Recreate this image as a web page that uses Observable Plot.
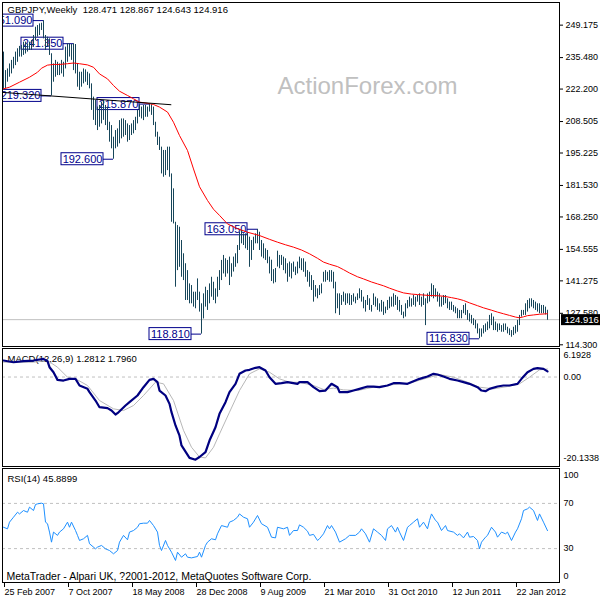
<!DOCTYPE html>
<html><head><meta charset="utf-8">
<script src="https://cdn.jsdelivr.net/npm/d3@7"></script>
<script src="https://cdn.jsdelivr.net/npm/@observablehq/plot@0.6"></script>
<style>
body{margin:0;background:#fff;}
#chart{position:relative;width:600px;height:600px;overflow:hidden;background:#fff;}
#chart svg{position:absolute;left:0;}
</style></head><body><div id="chart"></div>
<script>
// ---- weekly OHLC bars (week index 0 = 25 Feb 2007) ----
const highs = [
237.8,230.0,230.7,232.8,234.3,235.6,237.8,239.2,240.2,240.6,
242.0,242.0,241.3,242.0,242.7,244.8,248.3,249.0,249.7,250.0,
251.09,244.8,244.1,243.4,237.1,232.8,234.3,233.5,232.8,234.3,
233.5,239.9,241.3,241.3,241.0,241.35,241.0,232.8,229.3,229.3,
230.7,230.3,229.3,228.6,224.4,218.8,217.4,214.6,215.3,216.7,
217.4,215.3,214.6,208.2,206.8,201.9,204.7,205.4,208.9,209.6,
209.6,208.9,207.5,206.8,207.5,208.9,210.3,213.2,215.5,214.6,
215.3,215.3,214.6,215.87,215.6,214.6,208.2,204.0,201.9,197.7,
196.3,196.3,197.7,197.7,186.4,180.1,166.0,164.6,163.9,158.3,
152.7,148.5,145.6,140.0,139.3,136.5,136.5,142.1,136.5,131.6,
135.8,138.6,137.2,140.0,142.8,140.7,137.9,142.8,145.6,149.9,
152.0,150.6,149.9,151.3,148.5,151.3,152.7,156.2,161.8,162.5,
161.1,161.1,161.5,159.7,158.3,159.7,161.1,163.05,161.8,158.3,
156.9,154.8,154.1,151.3,150.0,146.0,146.5,153.8,152.0,152.0,
151.3,150.6,148.5,149.2,148.5,149.2,147.1,149.2,151.3,150.6,
150.6,149.2,145.6,144.9,143.5,141.4,139.3,137.9,139.3,140.0,
144.9,145.6,144.9,145.6,145.6,144.9,140.7,135.8,135.8,135.1,
136.5,135.8,135.8,135.8,135.1,135.8,134.4,135.8,137.9,137.2,
134.4,133.0,135.1,133.7,130.9,135.8,134.4,133.7,131.6,133.0,
132.3,130.2,133.0,134.4,134.4,135.8,135.1,134.4,133.0,130.9,
128.1,131.6,133.0,134.4,133.7,135.1,134.4,135.1,135.8,134.4,
135.8,133.7,135.8,136.5,140.0,139.3,137.9,136.5,135.8,134.4,
135.1,135.1,133.7,132.3,132.3,130.9,130.2,129.5,128.8,128.8,
130.9,131.6,128.8,127.4,126.7,125.3,124.6,123.1,121.0,121.0,
122.4,123.1,123.9,126.7,127.4,126.0,123.9,123.1,123.1,122.4,
123.1,123.1,121.7,121.0,120.3,121.7,122.4,124.6,126.7,128.8,
128.8,131.6,133.0,133.7,133.7,133.0,132.3,131.6,131.6,130.9,
130.9,130.2,128.867];
const lows = [
221.6,222.3,225.1,227.2,228.6,230.7,232.1,233.5,235.7,235.7,
236.4,237.0,237.8,238.5,238.5,239.9,242.7,244.1,244.8,246.9,
243.4,238.5,239.9,236.4,219.32,225.1,227.2,227.9,227.9,228.6,
227.2,230.7,233.5,235.7,234.3,230.0,228.6,223.0,221.6,223.0,
224.4,225.1,223.7,222.3,213.2,209.0,206.8,204.7,206.1,207.5,
209.0,206.8,204.7,199.8,197.0,192.6,197.0,197.7,199.1,201.2,
201.9,202.6,199.8,200.5,202.6,203.3,204.7,207.5,210.3,209.6,
208.9,210.3,210.3,212.5,211.1,206.8,201.9,198.4,196.3,186.4,
185.0,185.7,187.8,185.0,166.0,165.3,138.6,145.6,147.0,142.8,
141.4,133.0,133.0,131.6,131.6,130.2,129.5,133.0,128.1,118.81,
125.2,130.2,128.8,131.6,134.4,133.0,131.6,134.4,137.2,141.4,
144.2,142.8,144.2,139.3,142.8,145.0,147.0,148.5,154.1,156.9,
156.2,154.8,154.1,147.0,149.9,154.1,156.9,156.9,154.1,151.3,
150.6,149.9,148.5,144.2,141.0,140.0,140.5,147.1,146.4,147.8,
145.6,144.2,140.7,142.8,142.1,144.9,143.5,144.2,146.4,145.6,
144.9,142.8,140.7,138.6,137.2,132.3,134.4,133.7,135.1,135.8,
140.7,140.7,141.4,140.7,140.7,137.9,127.4,129.5,126.7,130.9,
132.3,130.9,131.6,130.9,130.9,132.3,131.6,133.0,133.7,132.3,
129.5,128.1,130.9,128.8,128.1,130.9,130.2,128.8,128.1,128.1,
126.7,127.4,128.8,129.5,130.2,130.2,130.9,128.8,128.1,126.7,
125.3,126.0,129.5,130.2,130.2,130.9,130.2,132.3,130.9,130.2,
130.9,122.4,131.6,132.3,134.4,133.7,134.4,132.3,130.2,130.2,
130.9,131.6,129.5,128.8,128.8,128.1,127.4,125.3,125.3,125.3,
127.4,126.7,124.6,123.9,123.1,122.4,121.0,118.9,116.83,117.5,
118.9,119.6,120.3,121.0,122.4,120.3,120.3,119.6,120.3,119.6,
119.6,120.3,118.9,118.2,117.5,118.2,118.9,119.6,122.4,126.0,
126.7,126.7,128.1,129.5,130.2,129.5,128.8,128.1,127.4,127.4,
127.4,126.9,124.643];
const lastClose = 124.916;

// ---- moving average (red) ----
const maWeeks  = [0,3,8,13,17,19,22,25,28,32,35,38,42,45,48,52,55,58,62,65,68,72,75,78,82,85,88,92,95,98,102,105,108,112,117,122,128,133,137,141,145,149,153,157,160,163,167,170,173,177,180,184,187,190,193,197,200,204,207,210,213,217,220,224,227,230,233,237,240,244,247,250,253,256,258,260,262,265,268,272];
const maValues = [222.3,223.0,225.1,227.2,229.3,231.0,232.3,232.6,232.6,232.9,233.2,232.9,232.4,231.4,228.6,226.5,223.7,221.3,219.5,218.1,216.7,216.2,215.7,214.6,212.5,208.2,202.6,196.3,188.5,181.0,175.2,171.5,168.9,165.3,163.3,161.8,160.4,158.8,157.6,156.5,155.5,154.3,152.7,150.8,149.2,148.3,147.3,146.0,144.6,143.0,142.1,140.8,140.0,139.2,138.2,137.0,136.2,135.7,135.5,135.3,135.1,135.0,134.8,134.2,133.7,133.0,132.0,130.8,129.9,128.9,128.1,127.4,126.7,126.0,125.7,126.1,126.6,126.9,127.2,127.4];

// ---- trendline (black) ----
const trendWeeks = [-0.5, 83.7];
const trendValues = [220.8, 215.6];

// ---- price labels ----
const labelWeeks  = [20, 35, 24, 73, 55, 127, 99, 238];
const labelValues = [251.09, 241.35, 219.32, 215.87, 192.6, 163.05, 118.81, 116.83];

// ---- MACD(12,26,9) ----
const macdWeeks  = [0,5,10,15,20,22,23,25,27,30,33,36,38,42,43,46,48,52,54,56,57,61,63,67,70,73,75,77,78,81,83,84,86,88,89,91,93,96,98,101,103,106,108,111,113,116,118,121,123,126,128,131,133,136,139,142,147,148,152,155,158,161,164,167,168,172,175,178,182,185,188,192,195,198,202,205,208,212,215,217,220,223,227,230,233,237,239,241,243,247,250,253,257,259,262,265,267,270,272];
const macdValues = [3.71,3.33,3.56,3.71,4.09,3.56,2.21,1.08,-0.64,-0.79,-0.41,-0.41,-1.91,-2.66,-3.41,-5.29,-6.79,-7.01,-7.54,-8.44,-8.14,-6.41,-5.66,-4.16,-2.29,-0.64,-0.41,-1.16,-3.04,-4.16,-6.04,-7.91,-10.9,-13.2,-15.4,-16.8,-18.2,-18.6,-18.0,-16.9,-14.3,-11.3,-8.28,-5.66,-3.41,-1.53,0.72,1.46,1.62,2.07,2.21,1.46,-0.04,-1.53,-1.39,-1.16,-1.53,-1.16,-1.16,-2.29,-3.19,-3.04,-1.53,-2.29,-3.41,-3.41,-3.04,-2.66,-2.14,-2.14,-2.29,-1.91,-1.39,-1.39,-1.53,-0.94,-0.41,0.11,0.72,0.57,0.11,-0.41,-0.79,-1.16,-1.53,-2.29,-3.04,-3.19,-2.66,-2.14,-1.91,-1.91,-1.53,-0.41,1.08,1.84,2.0,1.84,1.28];
const signalWeeks  = [0,15,22,27,32,37,42,48,55,60,65,70,76,80,85,90,94,98,101,105,108,113,118,123,128,133,138,143,148,155,160,165,170,177,185,195,203,212,218,225,232,238,245,252,258,263,268,272];
const signalValues = [3.33,3.33,3.71,2.21,-0.04,-0.64,-1.91,-5.29,-7.16,-7.54,-6.41,-4.16,-1.16,-1.53,-5.29,-12.0,-15.8,-18.0,-18.2,-15.8,-12.8,-7.91,-3.04,0.72,1.84,1.08,-0.41,-1.16,-1.2,-1.91,-2.8,-2.5,-2.89,-3.04,-2.29,-1.69,-1.39,-0.19,0.57,-0.04,-1.16,-2.29,-2.66,-2.14,-1.53,-0.04,1.62,1.80];
const macdTicks = [6.1928, 0, -20.1338];
const macdTickLabels = ["6.1928", "0.00", "-20.1338"];

// ---- RSI(14) ----
const rsiWeeks  = [0,2,3,5,7,8,10,12,13,15,16,17,19,20,21,22,23,24,25,27,28,30,32,33,34,36,37,38,40,42,43,46,47,49,51,53,55,57,58,60,62,63,65,67,68,70,72,73,75,77,78,79,81,82,84,86,87,89,91,92,94,97,98,99,101,102,104,106,107,109,112,113,115,117,118,120,122,123,125,127,129,132,134,136,137,140,142,143,145,147,148,150,152,153,155,157,158,160,162,163,164,166,168,171,173,176,178,179,181,183,185,187,189,191,192,194,196,197,198,200,202,203,205,207,208,210,212,213,214,216,217,219,221,222,225,227,228,230,232,233,235,237,238,239,241,242,244,246,247,249,251,252,254,256,257,259,260,262,263,265,267,268,270,272];
const rsiValues = [48.9,47.5,53.4,57.8,62.2,60.7,63.7,62.2,66.7,63.7,69.0,69.6,70.2,69.6,53.4,52.0,44.6,35.7,44.6,41.7,44.6,47.5,53.4,48.9,53.4,46.0,41.7,37.2,38.7,41.7,34.3,29.8,31.3,32.8,29.8,28.3,25.4,28.3,35.7,41.7,37.8,44.6,46.0,48.9,52.0,52.5,52.5,54.9,50.4,44.6,32.8,28.3,37.2,32.8,26.8,19.5,26.8,22.4,25.4,22.4,21.8,23.0,26.8,22.4,32.8,35.7,38.7,37.8,43.1,50.4,48.9,53.4,54.9,57.8,60.7,57.8,56.4,48.9,53.4,59.3,52.0,48.9,40.1,39.5,48.9,47.5,48.9,41.7,46.0,46.0,51.0,48.9,45.4,41.7,42.6,37.2,38.7,43.1,50.4,47.5,50.4,44.6,35.7,38.7,41.7,41.7,44.6,47.5,43.1,35.7,47.5,44.6,41.7,37.2,47.5,50.4,44.6,48.9,44.6,37.2,48.9,50.4,53.4,56.4,48.9,53.4,47.5,54.9,60.7,54.9,53.4,46.0,50.4,46.0,44.6,41.7,43.1,39.5,44.6,40.1,40.7,37.2,29.8,35.7,40.1,41.7,48.9,44.6,40.1,44.6,43.1,44.6,37.2,44.6,47.5,56.4,63.7,65.2,66.7,63.7,54.9,60.7,53.4,45.9];
const rsiTicks = [100, 70, 30, 0];

// ---- axes ----
const priceTicks = [249.175,235.480,222.200,208.505,195.225,181.530,168.250,154.555,141.275,127.580,114.300];
const dateTickWeeks = [0,32,64,96,128,160,192,224,256];
const dateTickLabels = ["25 Feb 2007","7 Oct 2007","18 May 2008","28 Dec 2008","9 Aug 2009","21 Mar 2010","31 Oct 2010","12 Jun 2011","22 Jan 2012"];

const titleText = "GBPJPY,Weekly  128.471 128.867 124.643 124.916";
const macdTitle = "MACD(12,26,9) 1.2812 1.7960";
const rsiTitle = "RSI(14) 45.8899";
const footer = "MetaTrader - Alpari UK, ?2001-2012, MetaQuotes Software Corp.";
const watermark = "ActionForex.com";

// ---- build ----
const FONT = "'Liberation Sans', Arial, sans-serif";
const BAR = "#17465a";
const NAVY = "#00008b";
const xDomain = [-0.5, 278];
const zip = (a, b) => a.map((k, i) => ({k, v: b[i]}));
const bars = highs.map((h, i) => ({k: i, high: h, low: lows[i]}));
const maPts = zip(maWeeks, maValues);
const trendPts = zip(trendWeeks, trendValues);
const labels = zip(labelWeeks, labelValues);
const macdPts = zip(macdWeeks, macdValues);
const sigPts = zip(signalWeeks, signalValues);
const rsiPts = zip(rsiWeeks, rsiValues);
const baseStyle = {fontFamily: FONT, fontSize: "9px", background: "transparent", color: "black", overflow: "visible"};
const common = {width: 600, marginLeft: 2, marginRight: 41, style: baseStyle};

const p1 = Plot.plot({
  ...common, height: 347, marginTop: 2, marginBottom: 1,
  x: {domain: xDomain, axis: null},
  y: {domain: [113.583, 258.73], label: null},
  marks: [
    Plot.text([watermark], {text: d => d, frameAnchor: "top-left", textAnchor: "start", lineAnchor: "top", dx: 275, dy: 74, fontSize: 24, fill: "#c0c0c0"}),
    Plot.ruleY([lastClose], {stroke: "#c0c0c0"}),
    Plot.ruleY(labels, {y: "v", x1: "k", x2: "k", insetLeft: -10, stroke: NAVY}),
    Plot.rect(labels, {x1: "k", x2: "k", y1: "v", y2: "v", insetLeft: -52, insetRight: 10, insetTop: -6, insetBottom: -6, fill: "white", stroke: NAVY, clip: true}),
    Plot.text(labels, {x: "k", y: "v", text: d => d.v.toFixed(3), dx: -31, fill: NAVY, fontSize: 11, clip: true}),
    Plot.ruleX(bars, {x: "k", y1: "low", y2: "high", stroke: BAR, strokeWidth: 1}),
    Plot.line(maPts, {x: "k", y: "v", stroke: "#ff0000", strokeWidth: 1}),
    Plot.line(trendPts, {x: "k", y: "v", stroke: "black", strokeWidth: 1}),
    Plot.text([titleText], {text: d => d, frameAnchor: "top-left", textAnchor: "start", lineAnchor: "top", dx: 5, dy: 4, fontSize: 9.5, fill: "black"}),
    Plot.frame({stroke: "black"}),
    Plot.axisY({ticks: priceTicks, anchor: "right", tickSize: 3, tickPadding: 3, tickFormat: d => d.toFixed(3), label: null, fontSize: 9}),
    Plot.rect([lastClose], {x1: xDomain[1], x2: xDomain[1], y1: d => d, y2: d => d, insetLeft: 2, insetRight: -41, insetTop: -5, insetBottom: -6, fill: "black"}),
    Plot.text([lastClose], {x: xDomain[1], y: d => d, text: d => d.toFixed(3), textAnchor: "start", dx: 5, fill: "white", fontSize: 9.5})
  ]
});

const p2 = Plot.plot({
  ...common, height: 120, marginTop: 1, marginBottom: 1, insetTop: 1,
  x: {domain: xDomain, axis: null},
  y: {domain: [-20.1338, 6.1928], label: null},
  marks: [
    Plot.ruleY([0], {stroke: "#c0c0c0", strokeDasharray: "3,3"}),
    Plot.text([macdTitle], {text: d => d, frameAnchor: "top-left", textAnchor: "start", lineAnchor: "top", dx: 5, dy: 7, fontSize: 9.5, fill: "black"}),
    Plot.line(sigPts, {x: "k", y: "v", stroke: "#b8b8b8", strokeWidth: 1}),
    Plot.line(macdPts, {x: "k", y: "v", stroke: "#000080", strokeWidth: 2.2}),
    Plot.frame({stroke: "black"}),
    Plot.axisY({ticks: [macdTicks[0]], anchor: "right", tickSize: 0, tickPadding: 4, dy: 6, tickFormat: () => macdTickLabels[0], label: null, fontSize: 9}),
    Plot.axisY({ticks: [macdTicks[1]], anchor: "right", tickSize: 0, tickPadding: 4, tickFormat: () => macdTickLabels[1], label: null, fontSize: 9}),
    Plot.axisY({ticks: [macdTicks[2]], anchor: "right", tickSize: 0, tickPadding: 4, dy: -8, tickFormat: () => macdTickLabels[2], label: null, fontSize: 9})
  ]
});

const p3 = Plot.plot({
  ...common, height: 133, marginTop: 1, marginBottom: 18, insetTop: 1,
  x: {domain: xDomain, label: null},
  y: {domain: [0, 100], label: null},
  marks: [
    Plot.ruleY([rsiTicks[1], rsiTicks[2]], {stroke: "#c0c0c0", strokeDasharray: "3,3"}),
    Plot.text([rsiTitle], {text: d => d, frameAnchor: "top-left", textAnchor: "start", lineAnchor: "top", dx: 5, dy: 7, fontSize: 9.5, fill: "black"}),
    Plot.line(rsiPts, {x: "k", y: "v", stroke: "#1e90ff", strokeWidth: 1}),
    Plot.text([footer], {text: d => d, frameAnchor: "bottom-left", textAnchor: "start", lineAnchor: "bottom", dx: 4, dy: -3, fontSize: 10.5, fill: "black"}),
    Plot.frame({stroke: "black"}),
    Plot.axisY({ticks: [rsiTicks[0]], anchor: "right", tickSize: 0, tickPadding: 4, dy: 6, label: null, fontSize: 9}),
    Plot.axisY({ticks: [rsiTicks[1], rsiTicks[2]], anchor: "right", tickSize: 0, tickPadding: 4, label: null, fontSize: 9}),
    Plot.axisY({ticks: [rsiTicks[3]], anchor: "right", tickSize: 0, tickPadding: 4, dy: -6, label: null, fontSize: 9}),
    Plot.axisX({ticks: dateTickWeeks, anchor: "bottom", tickSize: 5, tickPadding: 1, textAnchor: "start", dx: 1,
      tickFormat: d => dateTickLabels[dateTickWeeks.indexOf(d)], label: null, fontSize: 9})
  ]
});

const chart = document.getElementById("chart");
[[p1, 0], [p2, 347], [p3, 467]].forEach(([svg, top]) => {
  svg.style.position = "absolute";
  svg.style.top = top + "px";
  svg.style.left = "0px";
  chart.appendChild(svg);
});
</script>
</body></html>
